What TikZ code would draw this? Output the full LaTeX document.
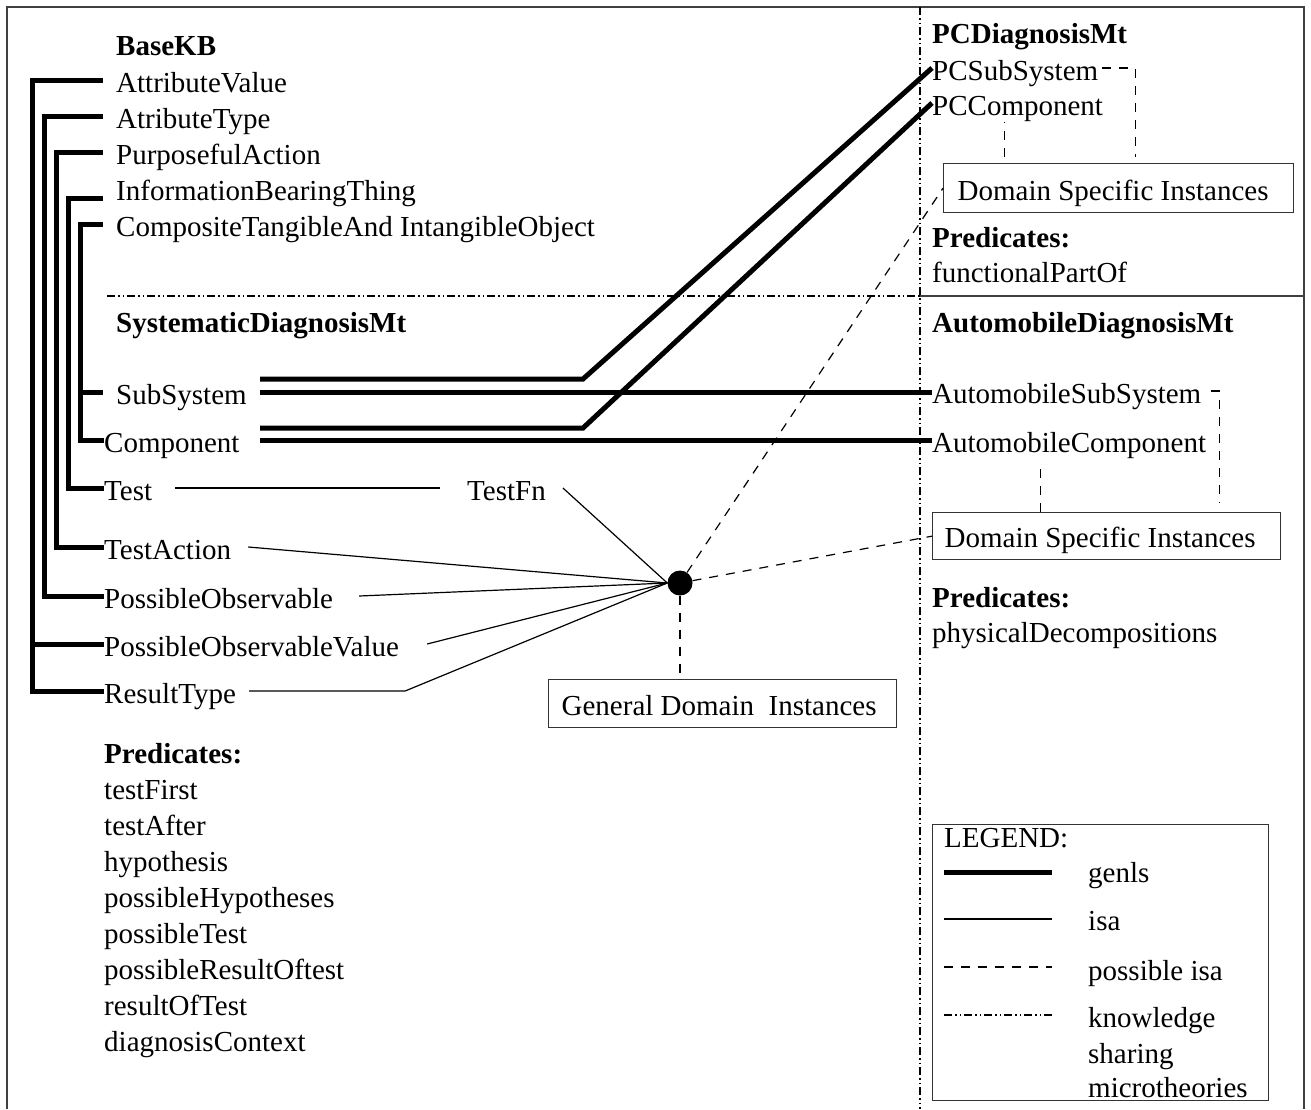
\documentclass[tikz,border=0pt]{standalone}
\usepackage{fontspec}
\setmainfont{Liberation Serif}
\begin{document}
\begin{tikzpicture}[x=1pt,y=-1pt,
  font=\fontsize{29}{34}\selectfont,
  lab/.style={inner sep=0pt, anchor=base west, text height=24pt, text depth=0pt},
  hd/.style={lab, font=\fontsize{29}{34}\selectfont\bfseries},
  genls/.style={line width=5pt},
  isa/.style={line width=1.2pt},
  possible/.style={line width=1.2pt, dash pattern=on 9pt off 8pt},
  share/.style={line width=1.2pt, dash pattern=on 8pt off 3pt on 1.5pt off 3pt on 1.5pt off 3pt},
  frame/.style={line width=1.5pt, black!75},
  box/.style={draw=black!80, line width=1.3pt, anchor=north west, inner ysep=0pt, text depth=12pt}]
\useasboundingbox (0,0) rectangle (1311,1109);

% outer frame and microtheory borders
\draw[frame] (7,1109) -- (7,7) -- (1304,7) -- (1304,1109);
\draw[share] (920,7) -- (920,1109);
\draw[share] (107,296) -- (920,296);
\draw[isa, black!75] (920,296) -- (1304,296);

% BaseKB
\node[hd]  (basekb) at (116,55)  {BaseKB};
\node[lab] (av)   at (116,92)  {AttributeValue};
\node[lab] (at)   at (116,128) {AtributeType};
\node[lab] (pa)   at (116,164) {PurposefulAction};
\node[lab] (ibt)  at (116,200) {InformationBearingThing};
\node[lab] (ctio) at (116,236) {CompositeTangibleAnd IntangibleObject};

% SystematicDiagnosisMt
\node[hd]  (sysmt) at (116,332) {SystematicDiagnosisMt};
\node[lab] (sub)   at (116,404) {SubSystem};
\node[lab] (comp)  at (104,452) {Component};
\node[lab] (test)  at (104,500) {Test};
\node[lab] (ta)    at (104,559) {TestAction};
\node[lab] (po)    at (104,608) {PossibleObservable};
\node[lab] (pov)   at (104,656) {PossibleObservableValue};
\node[lab] (rt)    at (104,703) {ResultType};
\node[lab] (tfn)   at (467,500) {TestFn};

\node[hd]  (spred) at (104,763)  {Predicates:};
\node[lab] (p1) at (104,799)  {testFirst};
\node[lab] (p2) at (104,835)  {testAfter};
\node[lab] (p3) at (104,871)  {hypothesis};
\node[lab] (p4) at (104,907)  {possibleHypotheses};
\node[lab] (p5) at (104,943)  {possibleTest};
\node[lab] (p6) at (104,979)  {possibleResultOftest};
\node[lab] (p7) at (104,1015) {resultOfTest};
\node[lab] (p8) at (104,1051) {diagnosisContext};

% PCDiagnosisMt
\node[hd]  (pcmt)   at (932,43)  {PCDiagnosisMt};
\node[lab] (pcsub)  at (932,80)  {PCSubSystem};
\node[lab] (pccomp) at (932,115) {PCComponent};
\node[box, inner xsep=14pt, text height=37pt] (dsi1) at (943,163) {\makebox[322pt][l]{Domain Specific Instances}};
\node[hd]  (pcpred) at (932,247) {Predicates:};
\node[lab] (fpo)    at (932,282) {functionalPartOf};

% AutomobileDiagnosisMt
\node[hd]  (amt)   at (932,332) {AutomobileDiagnosisMt};
\node[lab] (asub)  at (932,403) {AutomobileSubSystem};
\node[lab] (acomp) at (932,452) {AutomobileComponent};
\node[box, inner xsep=12pt, text height=35pt] (dsi2) at (932,512) {\makebox[324pt][l]{Domain Specific Instances}};
\node[hd]  (apred) at (932,607) {Predicates:};
\node[lab] (pd)    at (932,642) {physicalDecompositions};

% general instances
\node[circle, fill, minimum size=25pt, inner sep=0pt] (hub) at (680,583) {};
\node[box, inner xsep=13pt, text height=36pt] (gdi) at (548,679) {\makebox[322pt][l]{General Domain\ \ Instances}};

% genls hierarchy in BaseKB
\coordinate (busA) at (32.5,0);
\coordinate (busB) at (44.5,0);
\coordinate (busC) at (56.5,0);
\coordinate (busD) at (68.5,0);
\coordinate (busE) at (80.5,0);
\draw[genls] ([xshift=-13pt]av.west) -| (busA |- rt.west) -- (rt.west);
\draw[genls] (busA |- pov.west) -- (pov.west);
\draw[genls] ([xshift=-13pt]at.west) -| (busB |- po.west) -- (po.west);
\draw[genls] ([xshift=-13pt]pa.west) -| (busC |- ta.west) -- (ta.west);
\draw[genls] ([xshift=-13pt,yshift=-10pt]ibt.west) -| (busD |- test.west) -- (test.west);
\draw[genls] ([xshift=-13pt]ctio.west) -| (busE |- comp.west) -- (comp.west);
\draw[genls] (busE |- sub.west) -- ([xshift=-13pt]sub.west);

% genls into the domain microtheories
\coordinate (gstart) at (260,392);
\draw[genls] ([yshift=13pt]gstart) -- ++(323,0) -- (pcsub.west);
\draw[genls] (gstart) -- (gstart -| asub.west);
\draw[genls] ([yshift=12pt]gstart |- comp.east) -- ++(323,0) -- (pccomp.west);
\draw[genls] (gstart |- comp.east) -- (comp.east -| acomp.west);

% isa links
\draw[isa] ([xshift=23pt]test.east) -- ([xshift=-27pt]tfn.west);
\draw[isa] ([xshift=17pt]tfn.east) -- (hub.west);
\draw[isa] ([xshift=17pt]ta.east) -- (hub.west);
\draw[isa] ([xshift=26pt]po.east) -- (hub.west);
\draw[isa] ([xshift=28pt]pov.east) -- (hub.west);
\draw[isa] ([xshift=13pt]rt.east) -- ++(156,0) -- (hub.west);

% possible isa links
\draw[possible] (hub) -- (dsi1.west);
\draw[possible] (hub) -- (dsi2.west);
\draw[possible] (hub) -- (hub |- gdi.north);
\draw[possible] ([xshift=4pt]pcsub.east) -| ([xshift=17pt,yshift=6pt]dsi1.north);
\draw[possible] ([xshift=-114pt,yshift=6pt]dsi1.north) -- +(0,-35);
\draw[possible] ([xshift=10pt]asub.east) -| ([xshift=113pt,yshift=9pt]dsi2.north);
\draw[possible] ([xshift=-66pt]dsi2.north) -- +(0,-47);

% legend
\node[draw=black!80, line width=1.3pt, anchor=north west, minimum width=336pt, minimum height=276pt, inner sep=0pt] (legend) at (932,824) {};
\node[lab] (lg) at (944,847) {LEGEND:};
\draw[genls] (944,872) -- (1052,872);
\node[lab] (lgenls) at (1088,882) {genls};
\draw[isa] (944,919) -- (1052,919);
\node[lab] (lisa) at (1088,930) {isa};
\draw[possible] (944,967) -- (1052,967);
\node[lab] (lpisa) at (1088,980) {possible isa};
\draw[share] (944,1015) -- (1052,1015);
\node[lab] (lk1) at (1088,1027) {knowledge};
\node[lab] (lk2) at (1088,1063) {sharing};
\node[lab] (lk3) at (1088,1097) {microtheories};
\end{tikzpicture}
\end{document}
